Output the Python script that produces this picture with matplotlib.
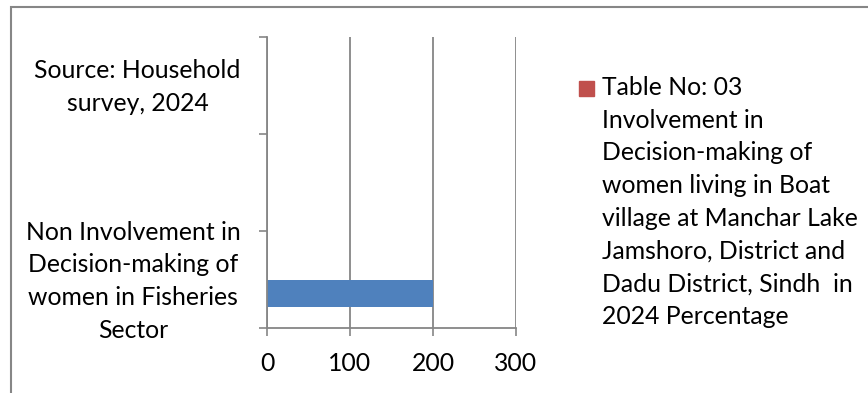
import numpy as np
import matplotlib.pyplot as plt
from matplotlib.patches import Rectangle
from matplotlib.transforms import ScaledTranslation

plt.rcParams.update({
    "font.family": ["Lato", "DejaVu Sans"],
    "font.size": 17.8,
})

categories = ["Non Involvement in\nDecision-making of\nwomen in Fisheries\nSector",
              "",
              "Source: Household\nsurvey, 2024"]
blue_vals = [200, 0, 0]
red_vals = [0.5, 0.5, 0]
red_label = ("Table No: 03\nInvolvement in\nDecision-making of\nwomen living in Boat\n"
             "village at Manchar Lake\nJamshoro, District and\nDadu District, Sindh  in\n"
             "2024 Percentage")
xticks = [0, 100, 200, 300]

W, H = 868, 393
fig = plt.figure(figsize=(W/100, H/100), dpi=100)
ax = fig.add_axes([267/W, 1-328/H, (516-267)/W, (328-37)/H])

grey = '#868686'
y = np.arange(len(categories))
bh = 0.28
ax.barh(y - bh/2, blue_vals, height=bh, color='#4F81BD')
ax.barh(y + bh/2, red_vals, height=bh, color='#C0504D')

ax.set_xlim(0, 300)
ax.set_ylim(-0.5, len(categories) - 0.5)
ax.set_xticks(xticks, [str(v) for v in xticks])
ax.set_yticks(np.arange(len(categories) + 1) - 0.5, [''] * (len(categories) + 1))
ax.set_yticks(y, categories, minor=True, multialignment='center')
ax.tick_params(axis='y', which='minor', length=0, pad=19)
ax.tick_params(axis='y', which='major', length=6, width=1.2, color=grey)
ax.tick_params(axis='x', length=6, width=1.2, color=grey, pad=11)
shift = ScaledTranslation(0, 5/100, fig.dpi_scale_trans)
for t in ax.get_yticklabels(minor=True):
    t.set_linespacing(1.5)
    t.set_transform(t.get_transform() + shift)

ax.grid(axis='x', color=grey, lw=1.3)
ax.set_axisbelow(True)
for s in ['top', 'right']:
    ax.spines[s].set_visible(False)
for s in ['left', 'bottom']:
    ax.spines[s].set_color(grey)
    ax.spines[s].set_linewidth(1.3)

# legend drawn by hand so the key sits on the first line
fig.patches.append(Rectangle((579/W, 1-96/H), 15/W, 15/H, transform=fig.transFigure,
                             color='#C0504D'))
fig.text(602/W, 1-76/H, red_label, ha='left', va='top', linespacing=1.51)

# outer chart border (cropped at right and bottom)
fig.patches.append(Rectangle((11/W, -0.1), 1.2, 1.1 - 7.5/H, transform=fig.transFigure,
                             fill=False, ec=grey, lw=1.5))

fig.savefig('out.png')
